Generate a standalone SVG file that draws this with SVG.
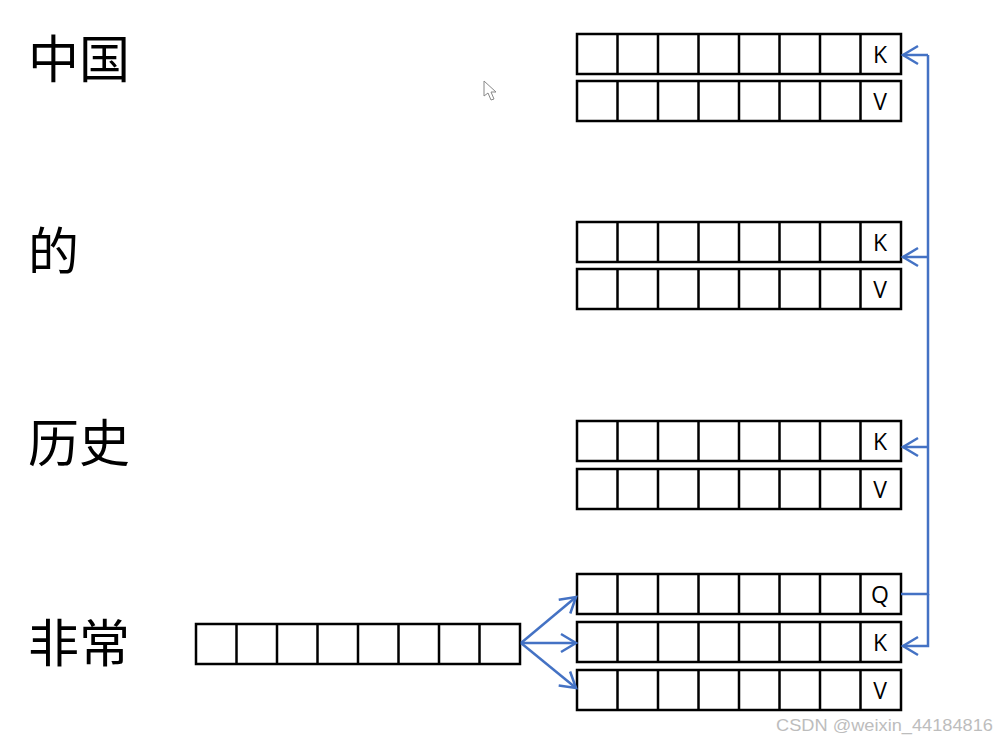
<svg xmlns="http://www.w3.org/2000/svg" xmlns:xlink="http://www.w3.org/1999/xlink" width="998" height="743" viewBox="0 0 998 743">
<style>
.cell{fill:#fff;stroke:#000;stroke-width:2.5}
.div{stroke:#000;stroke-width:2.5}
.word{font-family:"Noto Sans CJK SC","Noto Sans CJK JP",sans-serif;font-size:51px;fill:#000}
.lbl{font-family:"Open Sans","Liberation Sans",sans-serif;font-size:23px;fill:#000;text-anchor:middle}
.conn{fill:none;stroke:#4472C4;stroke-width:2.5}
.wm{font-family:"Liberation Sans",Arial,sans-serif;font-size:17px;fill:#bdbdbd}
</style>
<defs>
<g id="row">
<rect class="cell" x="0" y="0" width="324" height="40"/>
<path class="div" d="M40.5,0V40M81,0V40M121.5,0V40M162,0V40M202.5,0V40M243,0V40M283.5,0V40"/>
</g>
<marker id="ah" markerUnits="userSpaceOnUse" markerWidth="30" markerHeight="30" viewBox="-20 -15 30 30" refX="0" refY="0" orient="auto">
<path d="M-15,-9L0,0L-15,9" fill="none" stroke="#4472C4" stroke-width="2.5"/>
</marker>
</defs>
<rect width="998" height="743" fill="#fff"/>

<g id="word-zhongguo"><text class="word" x="28" y="78">中国</text></g>
<g id="word-de"><text class="word" x="28" y="270">的</text></g>
<g id="word-lishi"><text class="word" x="28" y="462">历史</text></g>
<g id="word-feichang"><text class="word" x="28" y="662">非常</text></g>

<g id="k1"><use xlink:href="#row" x="577" y="34"/><text class="lbl" x="880" y="63">K</text></g>
<g id="v1"><use xlink:href="#row" x="577" y="81"/><text class="lbl" x="880" y="110">V</text></g>
<g id="k2"><use xlink:href="#row" x="577" y="222"/><text class="lbl" x="880" y="251">K</text></g>
<g id="v2"><use xlink:href="#row" x="577" y="269"/><text class="lbl" x="880" y="298">V</text></g>
<g id="k3"><use xlink:href="#row" x="577" y="421"/><text class="lbl" x="880" y="450">K</text></g>
<g id="v3"><use xlink:href="#row" x="577" y="469"/><text class="lbl" x="880" y="498">V</text></g>
<g id="q4"><use xlink:href="#row" x="577" y="574"/><text class="lbl" x="880" y="603">Q</text></g>
<g id="k4"><use xlink:href="#row" x="577" y="622"/><text class="lbl" x="880" y="651">K</text></g>
<g id="v4"><use xlink:href="#row" x="577" y="670"/><text class="lbl" x="880" y="699">V</text></g>
<g id="input"><use xlink:href="#row" x="196" y="624"/></g>

<g id="connectors">
<path class="conn" d="M521,643L576,597" marker-end="url(#ah)"/>
<path class="conn" d="M521,643L576,643" marker-end="url(#ah)"/>
<path class="conn" d="M521,643L576,688" marker-end="url(#ah)"/>
<path class="conn" d="M901,594H928V55"/>
<path class="conn" d="M928,55H903" marker-end="url(#ah)"/>
<path class="conn" d="M928,257H903" marker-end="url(#ah)"/>
<path class="conn" d="M928,447H903" marker-end="url(#ah)"/>
<path class="conn" d="M928,594V646H903" marker-end="url(#ah)"/>
</g>

<path d="M484,81L484,96L488,93L491,100L494,99L491,92L496,92Z" fill="#fff" stroke="#888" stroke-width="1"/>
<text class="wm" x="776" y="731" textLength="217" lengthAdjust="spacingAndGlyphs">CSDN @weixin_44184816</text>
</svg>
